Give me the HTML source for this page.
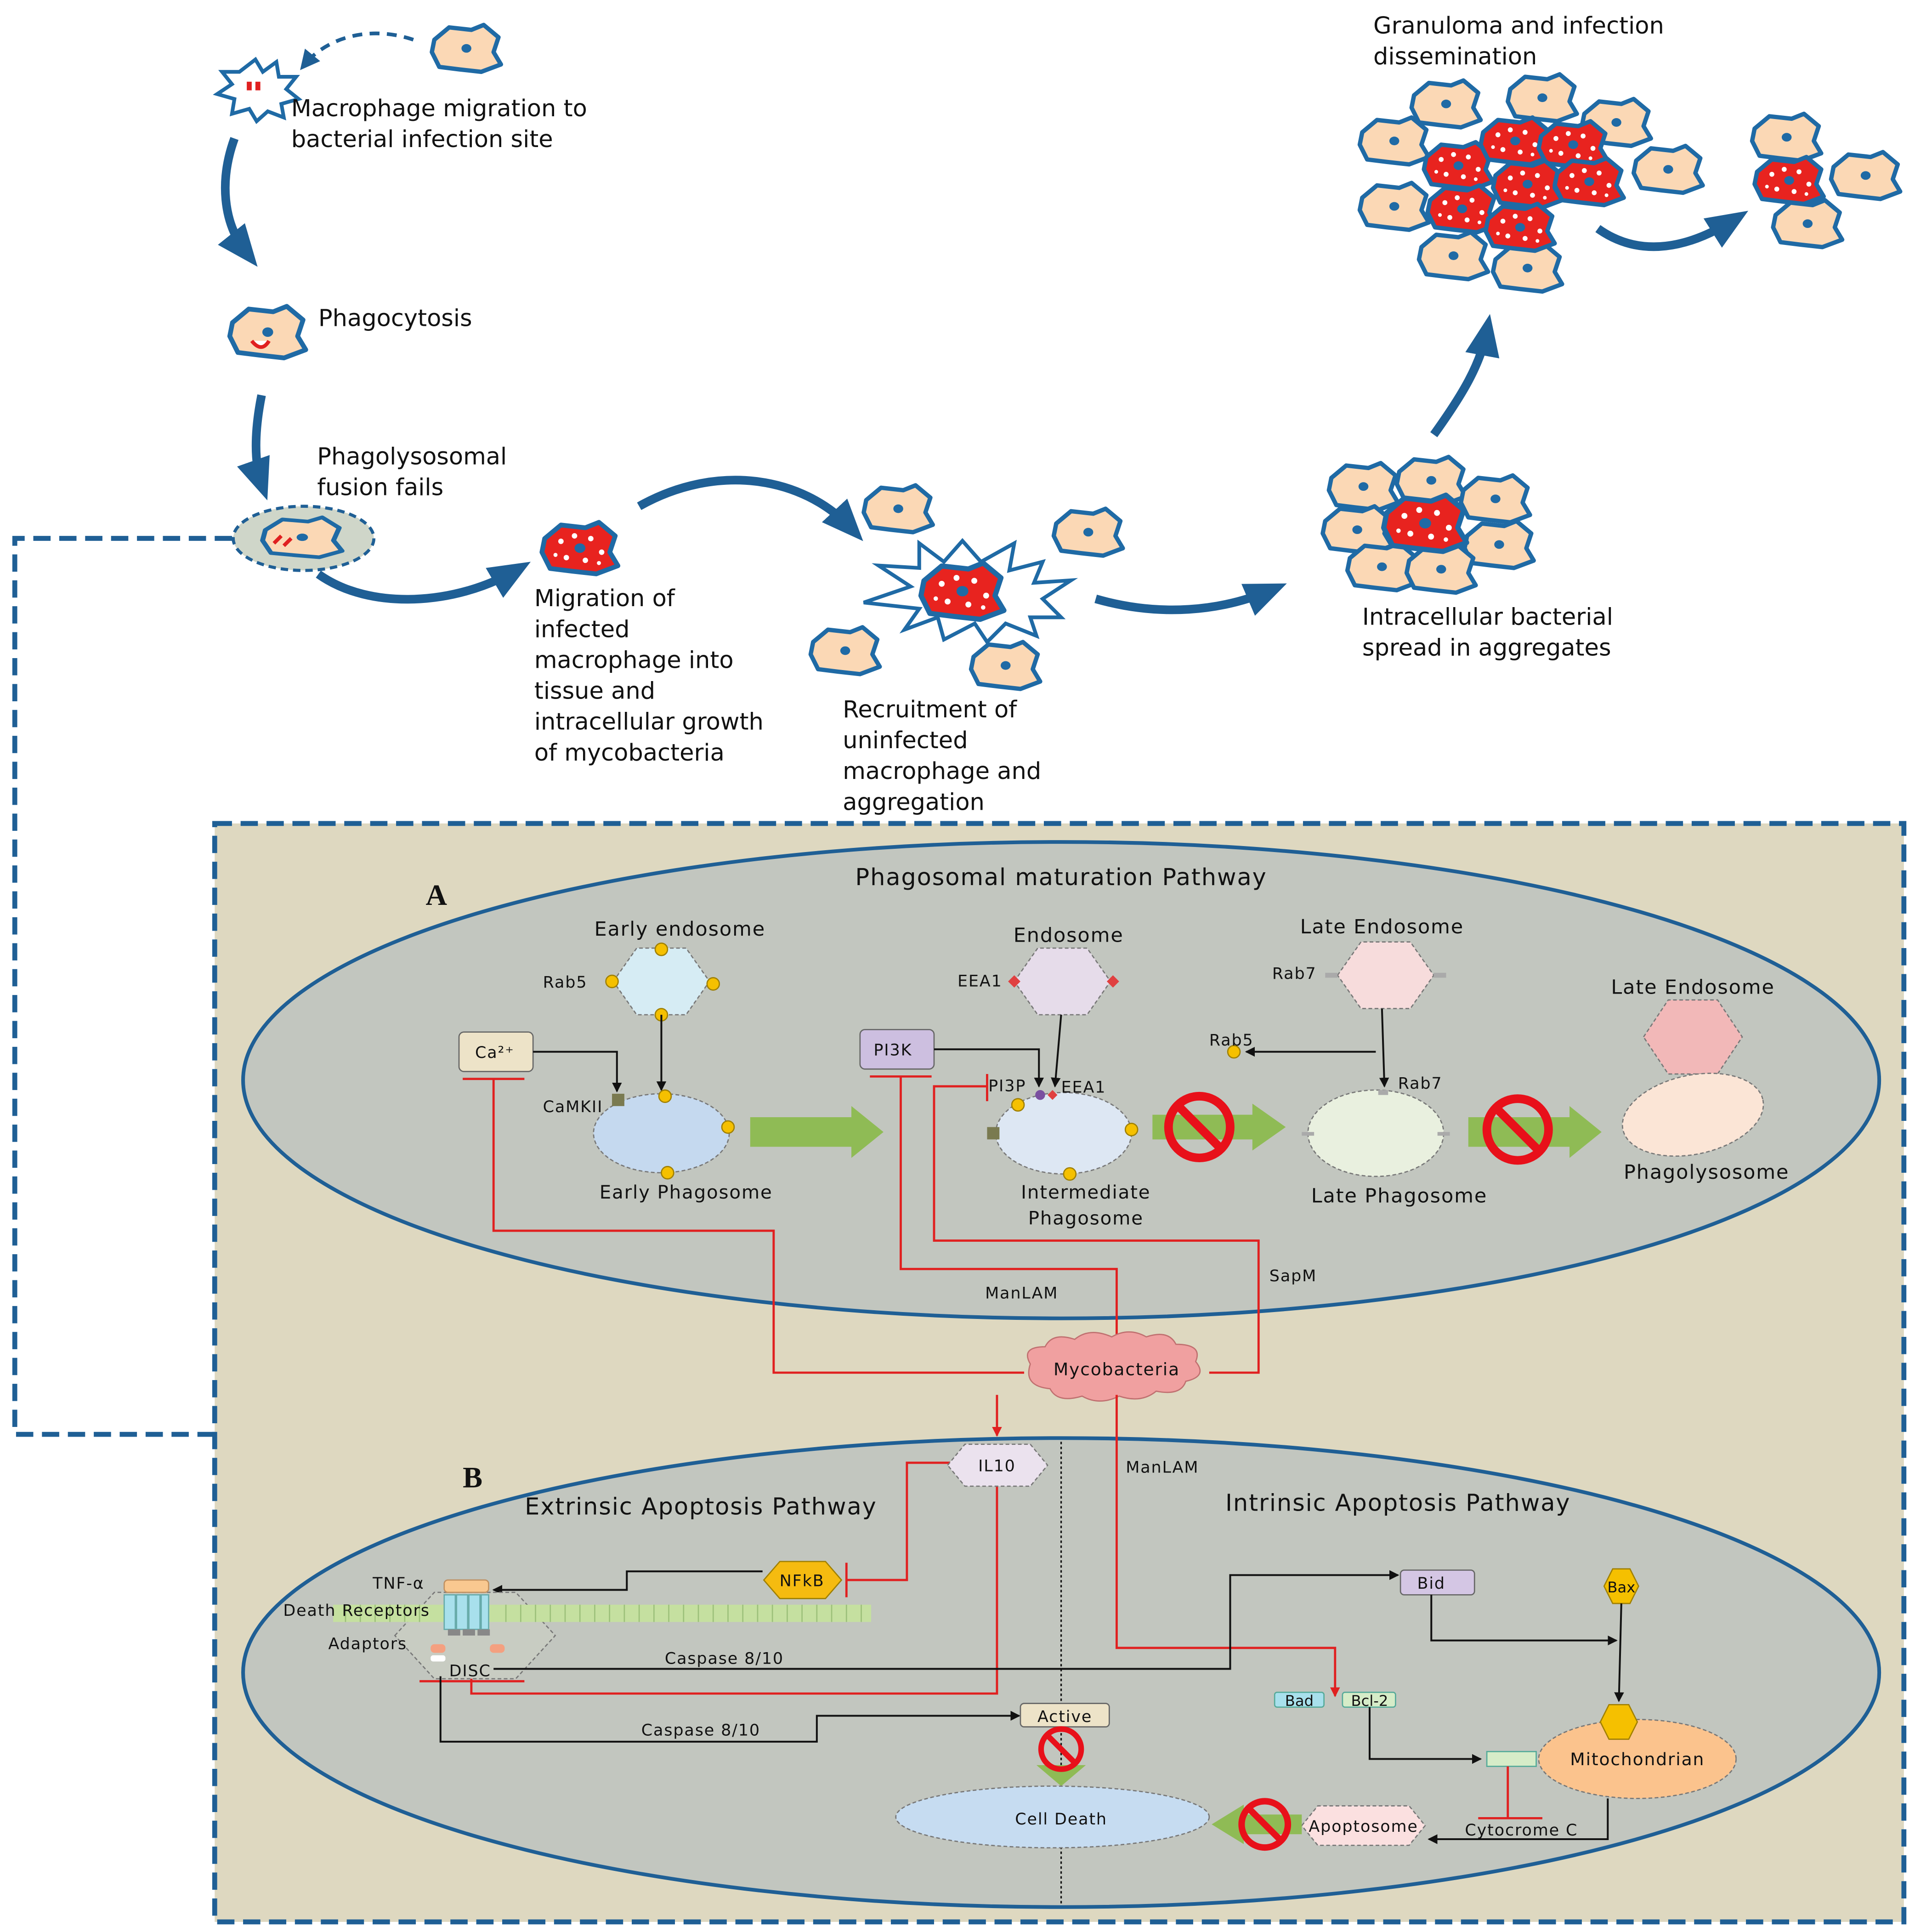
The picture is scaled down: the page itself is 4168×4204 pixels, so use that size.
<!DOCTYPE html>
<html><head><meta charset="utf-8"><style>
html,body{margin:0;padding:0;background:#fff}
svg{display:block}
text{font-family:"DejaVu Sans","Liberation Sans",sans-serif;fill:#111}
.p text{letter-spacing:0.7px}
.t{letter-spacing:1.5px}
</style></head><body>
<svg width="4168" height="4204" viewBox="0 0 1552 1565" xmlns="http://www.w3.org/2000/svg">
<defs>
<marker id="bk" markerWidth="8" markerHeight="8" refX="7" refY="4" orient="auto" markerUnits="userSpaceOnUse"><path d="M0,0L8,4L0,8z" fill="#111"/></marker>
<marker id="rd" markerWidth="8" markerHeight="8" refX="7" refY="4" orient="auto" markerUnits="userSpaceOnUse"><path d="M0,0L8,4L0,8z" fill="#e02020"/></marker>
<marker id="bl" markerWidth="34" markerHeight="34" refX="20" refY="17" orient="auto" markerUnits="userSpaceOnUse"><path d="M0,3L34,17L0,31z" fill="#1f5f95"/></marker>
<marker id="blt" markerWidth="16" markerHeight="16" refX="10" refY="8" orient="auto" markerUnits="userSpaceOnUse"><path d="M0,0L16,8L0,16z" fill="#1f5f95"/></marker>
<g id="cell"><path d="M-26,-8 L-14,-18 L4,-16 L14,-20 L26,-10 L22,2 L28,12 L12,18 L-6,16 L-22,14 L-28,2 Z" fill="#fbd8b5" stroke="#1f6aa5" stroke-width="3.5" stroke-linejoin="round"/><ellipse cx="0" cy="-1" rx="4" ry="3.5" fill="#1f6aa5"/></g>
<g id="icell"><path d="M-26,-8 L-14,-18 L4,-16 L14,-20 L26,-10 L22,2 L28,12 L12,18 L-6,16 L-22,14 L-28,2 Z" fill="#e8231f" stroke="#1f6aa5" stroke-width="3.5" stroke-linejoin="round"/><g fill="#fff"><circle cx="-14" cy="-6" r="2"/><circle cx="-4" cy="-10" r="2"/><circle cx="8" cy="-8" r="2"/><circle cx="16" cy="2" r="2"/><circle cx="-10" cy="6" r="2"/><circle cx="4" cy="8" r="2"/><circle cx="-18" cy="4" r="1.5"/><circle cx="14" cy="10" r="1.5"/></g><ellipse cx="0" cy="-1" rx="4" ry="3.5" fill="#1f6aa5"/></g>
<g id="nos"><circle r="25" fill="none" stroke="#e8101a" stroke-width="7"/><line x1="-17" y1="-17" x2="17" y2="17" stroke="#e8101a" stroke-width="7"/></g>
</defs>

<!-- TOP FLOW -->
<path d="M207,48 L213,58 L224,50 L226,62 L240,62 L232,72 L242,80 L228,84 L230,95 L217,90 L208,98 L202,88 L188,92 L190,80 L176,76 L188,68 L180,58 L194,58 Z" fill="#fff" stroke="#1f6aa5" stroke-width="3"/>
<rect x="200" y="66" width="4" height="7" fill="#e02020"/><rect x="207" y="66" width="4" height="7" fill="#e02020"/>
<path d="M335,32 C300,20 265,30 247,52" fill="none" stroke="#1f5f95" stroke-width="3" stroke-dasharray="8,6" marker-end="url(#blt)"/>
<use href="#cell" transform="translate(378,40)"/>
<text x="236" y="94" font-size="19">Macrophage migration to</text>
<text x="236" y="119" font-size="19">bacterial infection site</text>
<path d="M190,112 C178,145 180,180 200,205" fill="none" stroke="#1f5f95" stroke-width="7" marker-end="url(#bl)"/>
<use href="#cell" transform="translate(217,270) scale(1.1)"/>
<path d="M204,276 q8,10 14,0" fill="#fff" stroke="#e02020" stroke-width="3"/>
<text x="258" y="264" font-size="19">Phagocytosis</text>
<path d="M212,320 C206,350 206,375 212,392" fill="none" stroke="#1f5f95" stroke-width="7" marker-end="url(#bl)"/>
<text x="257" y="376" font-size="19">Phagolysosomal</text>
<text x="257" y="401" font-size="19">fusion fails</text>
<ellipse cx="246" cy="436" rx="57" ry="26" fill="#cfd6c9" stroke="#1f5f95" stroke-width="2.5" stroke-dasharray="6,4"/>
<use href="#cell" transform="translate(245,436) scale(1.15,0.85)"/>
<path d="M222,440 l6,-6 M230,442 l6,-6" stroke="#e02020" stroke-width="3"/>
<path d="M258,465 C300,495 370,490 418,462" fill="none" stroke="#1f5f95" stroke-width="7" marker-end="url(#bl)"/>
<use href="#icell" transform="translate(470,445) scale(1.1)"/>
<g font-size="19"><text x="433" y="491">Migration of</text><text x="433" y="516">infected</text><text x="433" y="541">macrophage into</text><text x="433" y="566">tissue and</text><text x="433" y="591">intracellular growth</text><text x="433" y="616">of mycobacteria</text></g>
<path d="M518,410 C580,375 650,385 690,428" fill="none" stroke="#1f5f95" stroke-width="7" marker-end="url(#bl)"/>
<path d="M780,438 L795,455 L822,440 L818,462 L845,455 L838,472 L868,470 L845,485 L860,500 L835,500 L840,515 L815,505 L800,520 L790,505 L765,518 L760,500 L733,510 L745,493 L700,488 L738,475 L712,458 L745,460 L745,440 L765,455 Z" fill="#fff" stroke="#1f6aa5" stroke-width="3"/>
<use href="#icell" transform="translate(780,480) scale(1.2)"/>
<use href="#cell" transform="translate(728,413)"/><use href="#cell" transform="translate(882,432)"/><use href="#cell" transform="translate(685,528)"/><use href="#cell" transform="translate(815,540)"/>
<g font-size="19"><text x="683" y="581">Recruitment of</text><text x="683" y="606">uninfected</text><text x="683" y="631">macrophage and</text><text x="683" y="656">aggregation</text></g>
<path d="M888,485 C940,500 990,495 1030,478" fill="none" stroke="#1f5f95" stroke-width="7" marker-end="url(#bl)"/>
<use href="#cell" transform="translate(1105,395)"/><use href="#cell" transform="translate(1160,390)"/><use href="#cell" transform="translate(1212,405)"/><use href="#cell" transform="translate(1100,430)"/><use href="#cell" transform="translate(1215,442)"/><use href="#cell" transform="translate(1120,460)"/><use href="#cell" transform="translate(1168,462)"/>
<use href="#icell" transform="translate(1155,425) scale(1.2)"/>
<text x="1104" y="506" font-size="19">Intracellular bacterial</text>
<text x="1104" y="531" font-size="19">spread in aggregates</text>
<path d="M1162,352 C1185,320 1200,295 1205,268" fill="none" stroke="#1f5f95" stroke-width="7" marker-end="url(#bl)"/>
<text x="1113" y="27" font-size="19">Granuloma and infection</text>
<text x="1113" y="52" font-size="19">dissemination</text>
<use href="#cell" transform="translate(1172,85)"/><use href="#cell" transform="translate(1250,80)"/><use href="#cell" transform="translate(1310,100)"/><use href="#cell" transform="translate(1130,115)"/><use href="#cell" transform="translate(1352,138)"/><use href="#cell" transform="translate(1130,168)"/><use href="#cell" transform="translate(1178,208)"/><use href="#cell" transform="translate(1238,218)"/>
<use href="#icell" transform="translate(1182,135)"/><use href="#icell" transform="translate(1228,115)"/><use href="#icell" transform="translate(1275,118)"/><use href="#icell" transform="translate(1238,150)"/><use href="#icell" transform="translate(1288,148)"/><use href="#icell" transform="translate(1185,170)"/><use href="#icell" transform="translate(1232,185)"/>
<path d="M1295,185 C1330,210 1370,200 1405,178" fill="none" stroke="#1f5f95" stroke-width="7" marker-end="url(#bl)"/>
<use href="#cell" transform="translate(1448,112)"/><use href="#cell" transform="translate(1512,143)"/><use href="#cell" transform="translate(1465,182)"/><use href="#icell" transform="translate(1450,147)"/>

<!-- panel -->
<path d="M188,436 L12,436 L12,1162 L174,1162" fill="none" stroke="#1f5f95" stroke-width="4" stroke-dasharray="14,7"/>
<rect x="174" y="667" width="1369" height="890" fill="#ded8c0" stroke="#1f5f95" stroke-width="4" stroke-dasharray="14,7"/>
<ellipse cx="860" cy="875" rx="663" ry="193" fill="#c2c6bf" stroke="#1f5f95" stroke-width="3"/>
<ellipse cx="860" cy="1355" rx="663" ry="190" fill="#c2c6bf" stroke="#1f5f95" stroke-width="3"/>

<g class="p">
<!-- A -->
<text x="345" y="733" font-size="24" font-weight="bold" style="font-family:'Liberation Serif',serif">A</text>
<text x="860" y="717" font-size="19" text-anchor="middle" class="t">Phagosomal maturation Pathway</text>
<g font-size="13">
<text x="551" y="758" text-anchor="middle" font-size="16">Early endosome</text>
<polygon points="497,795 516,768 556,768 575,795 556,822 516,822" fill="#d6ecf4" stroke="#777" stroke-dasharray="3,2"/>
<g fill="#f5c000" stroke="#a08000"><circle cx="536" cy="769" r="5"/><circle cx="496" cy="795" r="5"/><circle cx="578" cy="797" r="5"/><circle cx="536" cy="822" r="5"/></g>
<text x="440" y="800">Rab5</text>
<rect x="372" y="836" width="60" height="32" rx="4" fill="#ede3c8" stroke="#666"/><text x="385" y="857">Ca²⁺</text>
<path d="M432,852 L500,852 L500,884" fill="none" stroke="#111" stroke-width="1.5" marker-end="url(#bk)"/>
<path d="M536,822 L536,883" stroke="#111" stroke-width="1.5" marker-end="url(#bk)"/>
<ellipse cx="536" cy="918" rx="55" ry="32" fill="#c5d9ef" stroke="#777" stroke-dasharray="3,2"/>
<rect x="496" y="886" width="10" height="10" fill="#7a7a50"/>
<g fill="#f5c000" stroke="#a08000"><circle cx="539" cy="888" r="5"/><circle cx="590" cy="913" r="5"/><circle cx="541" cy="950" r="5"/></g>
<text x="440" y="901">CaMKII</text>
<text x="556" y="971" text-anchor="middle" font-size="15">Early Phagosome</text>
<polygon points="608,905 690,905 690,896 716,917 690,938 690,929 608,929" fill="#8fbb55"/>
<rect x="697" y="834" width="60" height="32" rx="4" fill="#cdbfe0" stroke="#666"/><text x="708" y="855">PI3K</text>
<path d="M757,850 L842,850 L842,880" fill="none" stroke="#111" stroke-width="1.5" marker-end="url(#bk)"/>
<text x="866" y="763" text-anchor="middle" font-size="16">Endosome</text>
<polygon points="822,795 841,768 881,768 900,795 881,822 841,822" fill="#e6dcea" stroke="#777" stroke-dasharray="3,2"/>
<path d="M822,790 l5,5 l-5,5 l-5,-5z M902,790 l5,5 l-5,5 l-5,-5z" fill="#e04040"/>
<text x="776" y="799">EEA1</text>
<path d="M860,822 L855,880" stroke="#111" stroke-width="1.5" marker-end="url(#bk)"/>
<ellipse cx="862" cy="918" rx="55" ry="33" fill="#dde7f3" stroke="#777" stroke-dasharray="3,2"/>
<rect x="800" y="913" width="10" height="10" fill="#7a7a50"/>
<g fill="#f5c000" stroke="#a08000"><circle cx="825" cy="895" r="5"/><circle cx="917" cy="915" r="5"/><circle cx="867" cy="951" r="5"/></g>
<circle cx="843" cy="887" r="4" fill="#7a4fa0"/><path d="M853,883 l4,4 l-4,4 l-4,-4z" fill="#e04040"/>
<text x="801" y="884">PI3P</text><text x="860" y="885">EEA1</text>
<text x="880" y="971" text-anchor="middle" font-size="15">Intermediate</text>
<text x="880" y="992" text-anchor="middle" font-size="15">Phagosome</text>
<polygon points="934,903 1015,903 1015,894 1042,913 1015,932 1015,923 934,923" fill="#8fbb55"/>
<use href="#nos" transform="translate(972,913)"/>
<text x="1120" y="756" text-anchor="middle" font-size="16">Late Endosome</text>
<polygon points="1084,790 1103,763 1143,763 1162,790 1143,817 1103,817" fill="#f7dcdc" stroke="#777" stroke-dasharray="3,2"/>
<rect x="1074" y="788" width="10" height="4" fill="#aaa"/><rect x="1162" y="788" width="10" height="4" fill="#aaa"/>
<text x="1031" y="793">Rab7</text>
<path d="M1120,817 L1122,880" stroke="#111" stroke-width="1.5" marker-end="url(#bk)"/>
<path d="M1115,852 L1010,852" stroke="#111" stroke-width="1.5" marker-end="url(#bk)"/>
<circle cx="1000" cy="852" r="5" fill="#f5c000" stroke="#a08000"/><text x="980" y="847">Rab5</text>
<ellipse cx="1115" cy="918" rx="55" ry="35" fill="#e9f0df" stroke="#777" stroke-dasharray="3,2"/>
<rect x="1055" y="917" width="10" height="3" fill="#aaa"/><rect x="1165" y="917" width="10" height="3" fill="#aaa"/><rect x="1117" y="883" width="8" height="4" fill="#aaa"/>
<text x="1133" y="882">Rab7</text>
<text x="1134" y="974" text-anchor="middle" font-size="16">Late Phagosome</text>
<polygon points="1190,905 1272,905 1272,896 1298,917 1272,938 1272,929 1190,929" fill="#8fbb55"/>
<use href="#nos" transform="translate(1230,915)"/>
<text x="1372" y="805" text-anchor="middle" font-size="16">Late Endosome</text>
<polygon points="1332,840 1352,810 1392,810 1412,840 1392,870 1352,870" fill="#f2b8b8" stroke="#777" stroke-dasharray="3,2"/>
<ellipse cx="1372" cy="903" rx="58" ry="32" fill="#fbe5d6" stroke="#777" stroke-dasharray="3,2" transform="rotate(-12 1372 903)"/>
<text x="1383" y="955" text-anchor="middle" font-size="16">Phagolysosome</text>
</g>
<g fill="none" stroke="#e02020" stroke-width="1.8">
<path d="M375,874 L425,874 M400,874 L400,997 L627,997 L627,1112 L830,1112"/>
<path d="M705,872 L755,872 M730,872 L730,1028 L905,1028 L905,1095"/>
<path d="M800,870 L800,892 M800,880 L757,880 L757,1005 L1020,1005 L1020,1112 L980,1112"/>
</g>
<g font-size="13"><text x="828" y="1052" text-anchor="middle">ManLAM</text><text x="1048" y="1038" text-anchor="middle">SapM</text></g>
<path d="M835,1105 q-8,-14 12,-14 q6,-12 24,-6 q12,-10 30,-2 q14,-8 28,0 q18,-6 24,6 q22,0 16,14 q10,12 -8,16 q-4,12 -24,8 q-12,10 -30,4 q-16,8 -30,0 q-20,6 -26,-6 q-22,-2 -16,-20z" fill="#f0a0a0" stroke="#c07070"/>
<text x="905" y="1114" font-size="14" text-anchor="middle">Mycobacteria</text>

<!-- B -->
<text x="375" y="1205" font-size="24" font-weight="bold" style="font-family:'Liberation Serif',serif">B</text>
<text x="568" y="1227" font-size="19" text-anchor="middle" class="t">Extrinsic Apoptosis Pathway</text>
<text x="1133" y="1224" font-size="19" text-anchor="middle" class="t">Intrinsic Apoptosis Pathway</text>
<line x1="860" y1="1168" x2="860" y2="1542" stroke="#111" stroke-width="1.2" stroke-dasharray="2,2"/>
<g fill="none" stroke="#e02020" stroke-width="1.8">
<path d="M808,1130 L808,1163" marker-end="url(#rd)"/>
<path d="M770,1185 L735,1185 L735,1280 L686,1280 M686,1266 L686,1294"/>
<path d="M808,1203 L808,1372 L382,1372 L382,1358"/>
<path d="M905,1130 L905,1335 L1082,1335 L1082,1374" marker-end="url(#rd)"/>
<path d="M340,1362 L425,1362"/>
</g>
<polygon points="768,1187 782,1170 835,1170 849,1187 835,1204 782,1204" fill="#ebe2ee" stroke="#777" stroke-dasharray="3,2"/>
<text x="808" y="1192" font-size="13" text-anchor="middle">IL10</text>
<text x="942" y="1193" font-size="13" text-anchor="middle">ManLAM</text>
<polygon points="619,1280 632,1265 669,1265 682,1280 669,1295 632,1295" fill="#f5bb10" stroke="#a08000"/>
<text x="650" y="1285" font-size="13" text-anchor="middle">NFkB</text>
<path d="M618,1273 L508,1273 L508,1288 L400,1288" fill="none" stroke="#111" stroke-width="1.5" marker-end="url(#bk)"/>
<polygon points="320,1325 352,1290 418,1290 450,1325 418,1360 352,1360" fill="#c8ccc2" stroke="#777" stroke-dasharray="3,2"/>
<rect x="270" y="1300" width="436" height="14" fill="#c5e0a0"/>
<path d="M280,1300V1314M292,1300V1314M304,1300V1314M316,1300V1314M328,1300V1314M340,1300V1314M410,1300V1314M422,1300V1314M434,1300V1314M446,1300V1314M458,1300V1314M470,1300V1314M482,1300V1314M494,1300V1314M506,1300V1314M518,1300V1314M530,1300V1314M542,1300V1314M554,1300V1314M566,1300V1314M578,1300V1314M590,1300V1314M602,1300V1314M614,1300V1314M626,1300V1314M638,1300V1314M650,1300V1314M662,1300V1314M674,1300V1314M686,1300V1314M698,1300V1314" stroke="#9cc07a" stroke-width="1"/>
<rect x="360" y="1280" width="36" height="10" rx="3" fill="#f9c890" stroke="#c09060"/>
<g fill="#a8e0ec" stroke="#6aa"><rect x="360" y="1292" width="9" height="28"/><rect x="370" y="1292" width="9" height="28"/><rect x="380" y="1292" width="9" height="28"/><rect x="390" y="1292" width="6" height="28"/></g>
<g fill="#888"><rect x="363" y="1320" width="10" height="5"/><rect x="375" y="1320" width="10" height="5"/><rect x="387" y="1320" width="10" height="5"/></g>
<g fill="#f4a080"><rect x="349" y="1332" width="12" height="7" rx="3"/><rect x="397" y="1332" width="12" height="7" rx="3"/><rect x="349" y="1341" width="12" height="5" rx="2" fill="#fff"/></g>
<g font-size="13"><text x="323" y="1287" text-anchor="middle">TNF-α</text><text x="289" y="1309" text-anchor="middle">Death Receptors</text><text x="298" y="1336" text-anchor="middle">Adaptors</text><text x="381" y="1358" text-anchor="middle">DISC</text></g>
<path d="M400,1352 L997,1352 L997,1276 L1133,1276" fill="none" stroke="#111" stroke-width="1.5" marker-end="url(#bk)"/>
<text x="587" y="1348" font-size="13" text-anchor="middle">Caspase 8/10</text>
<path d="M357,1358 L357,1411 L662,1411 L662,1390 L826,1390" fill="none" stroke="#111" stroke-width="1.5" marker-end="url(#bk)"/>
<text x="568" y="1406" font-size="13" text-anchor="middle">Caspase 8/10</text>
<rect x="827" y="1380" width="72" height="19" rx="3" fill="#ede3c8" stroke="#666"/>
<text x="863" y="1395" font-size="13" text-anchor="middle">Active</text>
<polygon points="840,1430 880,1430 860,1447" fill="#8fbb55"/>
<use href="#nos" transform="translate(860,1417) scale(0.65)"/>
<ellipse cx="853" cy="1472" rx="127" ry="25" fill="#c6dcf1" stroke="#777" stroke-dasharray="3,2"/>
<text x="860" y="1478" font-size="13" text-anchor="middle">Cell Death</text>
<rect x="1135" y="1272" width="60" height="20" rx="3" fill="#d4c6e4" stroke="#666"/><text x="1160" y="1287" font-size="13" text-anchor="middle">Bid</text>
<path d="M1160,1292 L1160,1329 L1310,1329" fill="none" stroke="#111" stroke-width="1.5" marker-end="url(#bk)"/>
<polygon points="1300,1285 1307,1271 1321,1271 1328,1285 1321,1299 1307,1299" fill="#f5c000" stroke="#a08000"/>
<text x="1314" y="1290" font-size="12" text-anchor="middle" style="letter-spacing:0">Bax</text>
<path d="M1314,1299 L1312,1378" stroke="#111" stroke-width="1.5" marker-end="url(#bk)"/>
<ellipse cx="1327" cy="1425" rx="80" ry="32" fill="#fbc38d" stroke="#777" stroke-dasharray="3,2"/>
<polygon points="1297,1395 1304,1381 1320,1381 1327,1395 1320,1409 1304,1409" fill="#f5c000" stroke="#a08000"/>
<text x="1327" y="1430" font-size="14" text-anchor="middle">Mitochondrian</text>
<rect x="1033" y="1371" width="40" height="12" rx="2" fill="#a8e0ec" stroke="#5a9"/><text x="1053" y="1382" font-size="12" text-anchor="middle" style="letter-spacing:0">Bad</text>
<rect x="1088" y="1371" width="43" height="12" rx="2" fill="#d6ecc8" stroke="#5a9"/><text x="1110" y="1382" font-size="12" text-anchor="middle" style="letter-spacing:0">Bcl-2</text>
<path d="M1110,1383 L1110,1425 L1200,1425" fill="none" stroke="#111" stroke-width="1.5" marker-end="url(#bk)"/>
<rect x="1205" y="1419" width="40" height="12" fill="#d6ecc8" stroke="#5a9"/>
<path d="M1222,1431 L1222,1473 M1198,1473 L1250,1473" stroke="#e02020" stroke-width="1.8"/>
<path d="M1303,1457 L1303,1490 L1158,1490" fill="none" stroke="#111" stroke-width="1.5" marker-end="url(#bk)"/>
<text x="1233" y="1487" font-size="13" text-anchor="middle">Cytocrome C</text>
<polygon points="1055,1479 1068,1463 1142,1463 1155,1479 1142,1495 1068,1495" fill="#fbe0e0" stroke="#777" stroke-dasharray="3,2"/>
<text x="1105" y="1484" font-size="13" text-anchor="middle">Apoptosome</text>
<polygon points="1055,1470 1008,1470 1008,1462 982,1478 1008,1494 1008,1486 1055,1486" fill="#8fbb55"/>
<use href="#nos" transform="translate(1025,1478) scale(0.75)"/>
</g>
</svg>
</body></html>
